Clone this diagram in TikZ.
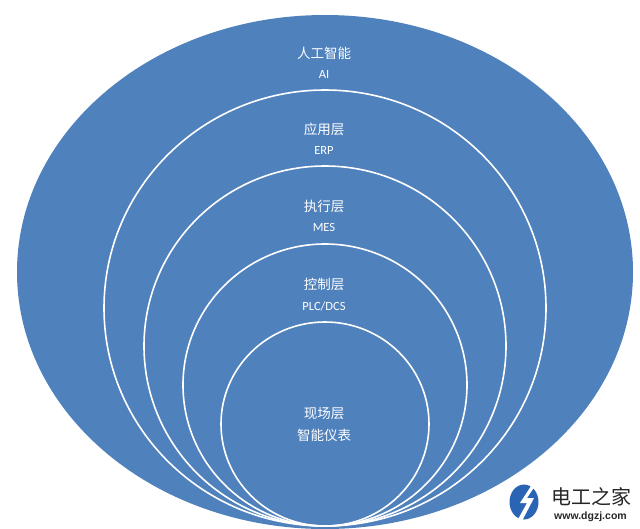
\documentclass[tikz,border=0pt]{standalone}
\usepackage{fontspec}
\setmainfont{Noto Sans CJK SC}
\newfontfamily\latinfont{Carlito}
\newfontfamily\wmfont{Liberation Sans}
\definecolor{layerblue}{HTML}{4F81BD}
\definecolor{logoblue}{HTML}{2A64B4}
\tikzset{
  outerlayer/.style={fill=layerblue,draw=none},
  innerlayer/.style={draw=white,line width=1.6pt,fill=none},
  cnlabel/.style={text=white,font=\fontsize{13.5}{15}\selectfont,inner sep=0pt},
  enlabel/.style={text=white,font=\latinfont\fontsize{12.5}{14}\selectfont,inner sep=0pt},
  wmtitle/.style={text=black!85,font=\fontsize{20}{22}\selectfont,inner sep=0pt},
  wmurl/.style={text=black!85,font=\wmfont\bfseries\fontsize{10.5}{12}\selectfont,inner sep=0pt}
}
\begin{document}
\begin{tikzpicture}[x=1pt,y=-1pt]
\useasboundingbox (0,0) rectangle (640,528);
\begin{scope}
\clip (0,0) rectangle (640,528);
\fill[outerlayer] (325,272) ellipse [x radius=308,y radius=257];
\draw[innerlayer] (325,308) ellipse [x radius=221,y radius=218];
\draw[innerlayer] (325,346) ellipse [x radius=181,y radius=180];
\draw[innerlayer] (325,385) ellipse [x radius=142,y radius=141];
\draw[innerlayer] (325,424) ellipse [x radius=104,y radius=102];
\end{scope}
\node[cnlabel] (a1) at (324,53) {人工智能};
\node[enlabel] (a2) at (324,74) {AI};
\node[cnlabel] (b1) at (324,129) {应用层};
\node[enlabel] (b2) at (324,150) {ERP};
\node[cnlabel] (c1) at (324,206) {执行层};
\node[enlabel] (c2) at (324,227) {MES};
\node[cnlabel] (d1) at (324,284) {控制层};
\node[enlabel] (d2) at (324,306) {PLC/DCS};
\node[cnlabel] (e1) at (324,414) {现场层};
\node[cnlabel] (e2) at (324,435) {智能仪表};
% watermark logo
\fill[logoblue] (524,502) ellipse [x radius=14.5,y radius=17.5];
\fill[white] (533,483) -- (520,503) -- (527,503) -- (517,521) -- (522,521) -- (534,498) -- (527,498) -- (537,483) -- cycle;
\node[wmtitle,anchor=west] (w1) at (551,497) {电工之家};
\node[wmurl,anchor=west] (w2) at (554,516.5) {www.dgzj.com};
\end{tikzpicture}
\end{document}
